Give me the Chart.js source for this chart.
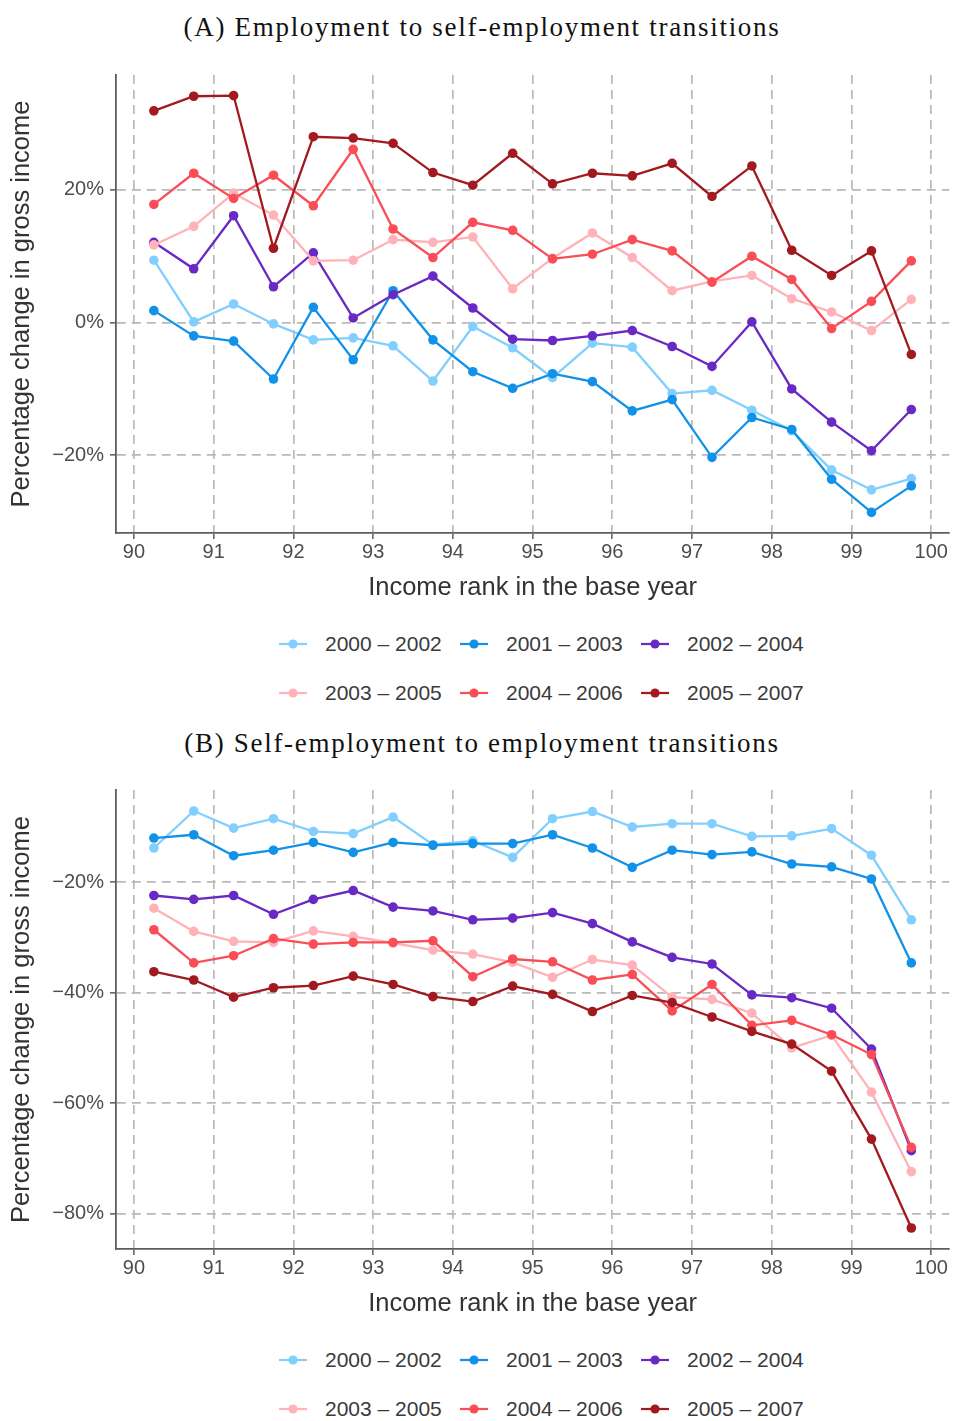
<!DOCTYPE html>
<html>
<head>
<meta charset="utf-8">
<script src="https://cdn.jsdelivr.net/npm/chart.js@4.4.1/dist/chart.umd.min.js"></script>
<style>
  html, body { margin:0; padding:0; background:#fff; }
  body { width:954px; height:1421px; position:relative; overflow:hidden; }
  .title { position:absolute; left:0; width:964px; text-align:center; font-family:"Liberation Serif", serif; font-size:27px; letter-spacing:1.7px; word-spacing:0px; line-height:30px; color:#111; white-space:nowrap; }
  .cwrap { position:absolute; left:0; width:954px; }
  .leg { position:absolute; font-family:"Liberation Sans", Arial, sans-serif; font-size:21px; color:#3a3a3a; white-space:nowrap; line-height:24px; }
  .leg svg { position:absolute; left:0; top:5px; }
  .leg span { position:absolute; left:47px; top:0; }
</style>
</head>
<body>
<div class="title" style="top:12px">(A) Employment to self-employment transitions</div>
<div class="cwrap" style="top:50px"><canvas id="cA" width="954" height="570"></canvas></div>
<div id="legA"></div>
<div class="title" style="top:728px">(B) Self-employment to employment transitions</div>
<div class="cwrap" style="top:766px"><canvas id="cB" width="954" height="570"></canvas></div>
<div id="legB"></div>
<script>
// ---------- data ----------
const ranks = [90.25,90.75,91.25,91.75,92.25,92.75,93.25,93.75,94.25,94.75,95.25,95.75,96.25,96.75,97.25,97.75,98.25,98.75,99.25,99.75];
const seriesNames = ["2000 \u2013 2002","2001 \u2013 2003","2002 \u2013 2004","2003 \u2013 2005","2004 \u2013 2006","2005 \u2013 2007"];
const seriesColors = ["#82cfff","#1192e8","#6929c4","#ffb3b8","#fa4d56","#a2191f"];

// Panel A: Employment to self-employment (percent)
const a2000 = [9.4,0.1,2.8,-0.2,-2.6,-2.3,-3.5,-8.8,-0.6,-3.8,-8.3,-3.1,-3.7,-10.7,-10.2,-13.2,-16.3,-22.2,-25.2,-23.5];
const a2001 = [1.8,-2.0,-2.8,-8.5,2.3,-5.6,4.8,-2.6,-7.4,-9.9,-7.7,-8.9,-13.3,-11.6,-20.3,-14.3,-16.1,-23.6,-28.6,-24.6];
const a2002 = [12.1,8.1,16.1,5.4,10.5,0.7,4.2,7.0,2.2,-2.5,-2.7,-2.0,-1.2,-3.6,-6.6,0.1,-10.0,-15.0,-19.3,-13.1];
const a2003 = [11.7,14.5,19.5,16.2,9.3,9.4,12.5,12.1,12.9,5.1,9.7,13.5,9.8,4.8,6.2,7.1,3.6,1.6,-1.2,3.5];
const a2004 = [17.8,22.5,18.7,22.2,17.6,26.1,14.1,9.8,15.1,13.9,9.6,10.3,12.5,10.8,6.1,10.0,6.5,-0.9,3.2,9.3];
const a2005 = [31.9,34.1,34.2,11.2,28.0,27.8,27.0,22.6,20.7,25.5,20.9,22.5,22.1,24.0,19.0,23.6,10.9,7.1,10.8,-4.8];

// Panel B: Self-employment to employment (percent)
const b2000 = [-13.8,-7.1,-10.2,-8.5,-10.8,-11.2,-8.2,-13.2,-12.5,-15.5,-8.5,-7.2,-10.0,-9.4,-9.4,-11.7,-11.6,-10.3,-15.1,-26.8];
const b2001 = [-12.0,-11.4,-15.2,-14.2,-12.8,-14.6,-12.8,-13.3,-13.0,-13.0,-11.4,-13.8,-17.3,-14.2,-15.0,-14.5,-16.7,-17.2,-19.4,-34.6];
const b2002 = [-22.4,-23.1,-22.4,-25.8,-23.1,-21.5,-24.5,-25.2,-26.8,-26.5,-25.5,-27.5,-30.8,-33.6,-34.8,-40.4,-40.9,-42.8,-50.2,-68.6];
const b2003 = [-24.7,-28.9,-30.7,-30.9,-28.8,-29.8,-31.0,-32.3,-33.0,-34.5,-37.2,-34.0,-35.0,-40.8,-41.2,-43.7,-50.0,-47.7,-58.0,-72.4];
const b2004 = [-28.6,-34.6,-33.3,-30.2,-31.2,-30.9,-30.9,-30.6,-37.1,-33.9,-34.4,-37.7,-36.7,-43.3,-38.5,-45.9,-45.0,-47.6,-51.2,-68.0];
const b2005 = [-36.2,-37.7,-40.8,-39.1,-38.7,-37.0,-38.5,-40.7,-41.6,-38.8,-40.3,-43.4,-40.5,-41.8,-44.4,-47.0,-49.3,-54.2,-66.5,-82.6];

const xTicks = [90,91,92,93,94,95,96,97,98,99,100];
const yTicksA = [-20,0,20];
const yTicksB = [-80,-60,-40,-20];
const xTitle = "Income rank in the base year";
const yTitle = "Percentage change in gross income";

// ---------- drawing ----------
const SANS = '"Liberation Sans", Arial, sans-serif';
const AXIS = '#5c5c5c';
const GRID = '#b9b9b9';

function makeChart(id, seriesList, yTicks, yMin, yMax, padTop) {
  const datasets = seriesList.map((vals, i) => ({
    label: seriesNames[i],
    data: ranks.map((r, j) => ({x: r, y: vals[j]})),
    borderColor: seriesColors[i],
    backgroundColor: seriesColors[i],
    pointBackgroundColor: seriesColors[i],
    pointBorderWidth: 0,
    pointRadius: 4.8,
    borderWidth: 2.3,
    tension: 0,
    order: seriesList.length - i
  }));
  return new Chart(document.getElementById(id), {
    type: 'line',
    data: { datasets },
    options: {
      responsive: false,
      animation: false,
      devicePixelRatio: 1,
      layout: { padding: { top: padTop, right: 4, left: 0, bottom: 0 } },
      plugins: { legend: { display: false }, tooltip: { enabled: false } },
      scales: {
        x: {
          type: 'linear',
          min: 89.775, max: 100.225,
          afterBuildTicks: (ax) => { ax.ticks = xTicks.map(v => ({value: v})); },
          afterFit: (ax) => { ax.height = 87; },
          ticks: { color: '#4d4d4d', font: { family: SANS, size: 20 }, padding: 1, maxRotation: 0, autoSkip: false,
                   callback: (v) => String(v) },
          grid: { color: GRID, lineWidth: 1.7, tickLength: 6, tickColor: AXIS, tickWidth: 1.5, tickBorderDash: [] },
          border: { display: true, color: AXIS, width: 1.8, dash: [9, 6] },
          title: { display: true, text: xTitle, color: '#333', font: { family: SANS, size: 25.5 }, padding: { top: 0, bottom: 17 } }
        },
        y: {
          type: 'linear',
          min: yMin, max: yMax,
          afterBuildTicks: (ax) => { ax.ticks = yTicks.map(v => ({value: v})); },
          afterFit: (ax) => { ax.width = 116; },
          ticks: { color: '#4d4d4d', font: { family: SANS, size: 20 }, padding: 6,
                   callback: (v) => (v < 0 ? '\u2212' + Math.abs(v) : String(v)) + '%' },
          grid: { color: GRID, lineWidth: 1.7, tickLength: 6, tickColor: AXIS, tickWidth: 1.5, tickBorderDash: [] },
          border: { display: true, color: AXIS, width: 1.8, dash: [9, 6] },
          title: { display: true, text: yTitle, color: '#333', font: { family: SANS, size: 25.5 }, padding: { top: 7, bottom: 0 } }
        }
      }
    }
  });
}

function makeLegend(elId, rowYs) {
  const host = document.getElementById(elId);
  const colX = [278, 459, 640];
  seriesNames.forEach((name, i) => {
    const row = Math.floor(i / 3), col = i % 3;
    const d = document.createElement('div');
    d.className = 'leg';
    d.style.left = colX[col] + 'px';
    d.style.top = (rowYs[row] - 12) + 'px';
    d.style.width = '175px';
    d.style.height = '24px';
    const c = seriesColors[i];
    d.innerHTML = '<svg width="30" height="14"><line x1="1" y1="7" x2="29" y2="7" stroke="' + c + '" stroke-width="2.2"/>' +
                  '<circle cx="15" cy="7" r="4.6" fill="' + c + '"/></svg><span>' + name + '</span>';
    host.appendChild(d);
  });
}

makeChart('cA', [a2000, a2001, a2002, a2003, a2004, a2005], yTicksA, -31.7, 37.3, 25);
makeChart('cB', [b2000, b2001, b2002, b2003, b2004, b2005], yTicksB, -86.4, -3.3, 24);
makeLegend('legA', [644, 693]);
makeLegend('legB', [1360, 1409]);
</script>
</body>
</html>
